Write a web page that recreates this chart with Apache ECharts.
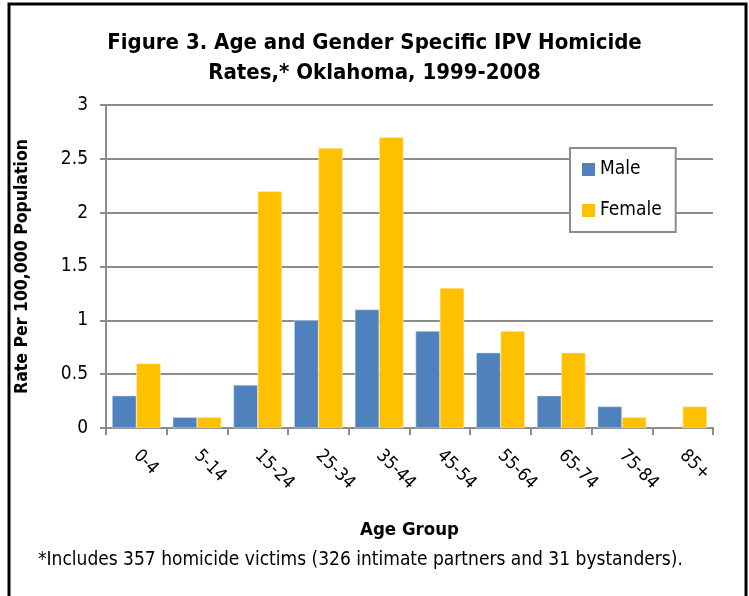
<!DOCTYPE html>
<html><head><meta charset="utf-8">
<script src="https://cdn.jsdelivr.net/npm/echarts@6/dist/echarts.min.js"></script>
<style>html,body{margin:0;padding:0;background:#fff}#c{width:749px;height:596px}</style>
</head><body><div id="c"></div>
<script>
const categories = ['0-4','5-14','15-24','25-34','35-44','45-54','55-64','65-74','75-84','85+'];
const maleRates = [0.3, 0.1, 0.4, 1.0, 1.1, 0.9, 0.7, 0.3, 0.2, null];
const femaleRates = [0.6, 0.1, 2.2, 2.6, 2.7, 1.3, 0.9, 0.7, 0.1, 0.2];
const titleText = 'Figure 3. Age and Gender Specific IPV Homicide\nRates,* Oklahoma, 1999-2008';
const footnote = '*Includes 357 homicide victims (326 intimate partners and 31 bystanders).';

const FF = "'Liberation Sans Narrow','Arial Narrow','DejaVu Sans Condensed',sans-serif";
const chart = echarts.init(document.getElementById('c'), null, {renderer:'canvas'});
chart.setOption({
  animation:false,
  backgroundColor:'#fff',
  textStyle:{fontFamily:FF},
  title:{text:titleText, left:'center', top:23, textStyle:{fontFamily:FF, fontSize:22, fontWeight:'bold', color:'#000', lineHeight:30}},
  legend:{
    orient:'vertical', left:570, top:148, data:['Male','Female'], icon:'rect',
    backgroundColor:'#fff', borderColor:'#8c8c8c', borderWidth:2, borderRadius:0,
    padding:[12,14,12,12], itemWidth:13, itemHeight:13, itemGap:22,
    itemStyle:{borderWidth:0},
    textStyle:{fontFamily:FF, fontSize:19, color:'#000'}
  },
  grid:{left:106, right:36, top:105, bottom:168, containLabel:false},
  xAxis:{
    type:'category', data:categories,
    name:'Age Group', nameLocation:'middle', nameGap:93,
    nameTextStyle:{fontFamily:FF, fontSize:18.5, fontWeight:'bold', color:'#000'},
    axisLine:{lineStyle:{color:'#8c8c8c', width:2}},
    axisTick:{show:true, length:7, lineStyle:{color:'#8c8c8c', width:2}},
    axisLabel:{rotate:-45, margin:25, fontFamily:FF, fontSize:18, color:'#000'}
  },
  yAxis:{
    type:'value', min:0, max:3, interval:0.5,
    name:'Rate Per 100,000 Population', nameLocation:'middle', nameGap:75,
    nameTextStyle:{fontFamily:FF, fontSize:17.5, fontWeight:'bold', color:'#000'},
    axisLine:{show:true, lineStyle:{color:'#8c8c8c', width:2}},
    axisTick:{show:true, length:6, lineStyle:{color:'#8c8c8c', width:2}},
    axisLabel:{margin:18, fontFamily:FF, fontSize:19, color:'#000'},
    splitLine:{lineStyle:{color:'#8c8c8c', width:2}}
  },
  series:[
    {name:'Male', type:'bar', data:maleRates, barGap:'0%', barCategoryGap:'20%',
     itemStyle:{color:'#4F81BD', borderColor:'#dbe5f1', borderWidth:0.5}},
    {name:'Female', type:'bar', data:femaleRates, barGap:'0%', barCategoryGap:'20%',
     itemStyle:{color:'#FFC000', borderColor:'#fff2cc', borderWidth:0.5}}
  ],
  graphic:[
    {type:'text', left:38, top:551, style:{text:footnote, font:"19px "+FF, fill:'#000'}},
    {type:'rect', shape:{x:9, y:4, width:737, height:700}, style:{fill:'none', stroke:'#000', lineWidth:3}, silent:true}
  ]
});
</script></body></html>
